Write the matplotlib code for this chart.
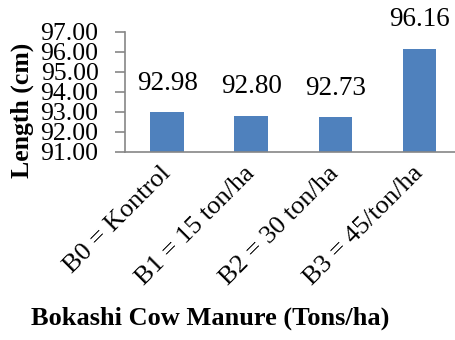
import matplotlib
matplotlib.use("Agg")
import matplotlib.pyplot as plt
import numpy as np

categories = ["B0 = Kontrol", "B1 = 15 ton/ha", "B2 = 30 ton/ha", "B3 = 45/ton/ha"]
lengths = [92.98, 92.80, 92.73, 96.16]
yticks = [91.0, 92.0, 93.0, 94.0, 95.0, 96.0, 97.0]

plt.rcParams["font.family"] = ["Liberation Serif", "DejaVu Serif"]
AXIS_GRAY = "#868686"
BAR_BLUE = "#4F81BD"

fig = plt.figure(figsize=(4.55, 3.4), dpi=100)
ax = fig.add_axes([125 / 455, 1 - 152 / 340, 1 - 125 / 455, 120 / 340])

x = np.arange(len(categories))
ax.bar(x, lengths, width=0.4, color=BAR_BLUE, zorder=2)
for xi, v in zip(x, lengths):
    ax.annotate(f"{v:.2f}", (xi, v), xytext=(0, 12), textcoords="offset points",
                ha="center", va="bottom", fontsize=19.5)

ax.set_ylim(91, 97)
ax.set_xlim(-0.5, 3.42)
ax.set_yticks(yticks)
ax.set_yticklabels([f"{t:.2f}" for t in yticks], fontsize=18.5)
ax.set_xticks(x)
ax.set_xticklabels(categories, rotation=45, ha="right", va="center",
                   rotation_mode="anchor", fontsize=19)

for side in ("top", "right"):
    ax.spines[side].set_visible(False)
for side in ("left", "bottom"):
    ax.spines[side].set_color(AXIS_GRAY)
    ax.spines[side].set_linewidth(1.2)
ax.tick_params(axis="y", length=7, width=1.2, color=AXIS_GRAY, pad=12)
ax.tick_params(axis="x", length=0, pad=13)

fig.text(22 / 455, 1 - 110 / 340, "Length (cm)", rotation=90, ha="center", va="center",
         fontsize=18.5, fontweight="bold")
fig.text(210 / 455, 1 - 318 / 340, "Bokashi Cow Manure (Tons/ha)", ha="center", va="center",
         fontsize=19, fontweight="bold")

fig.savefig("out.png", dpi=100)
